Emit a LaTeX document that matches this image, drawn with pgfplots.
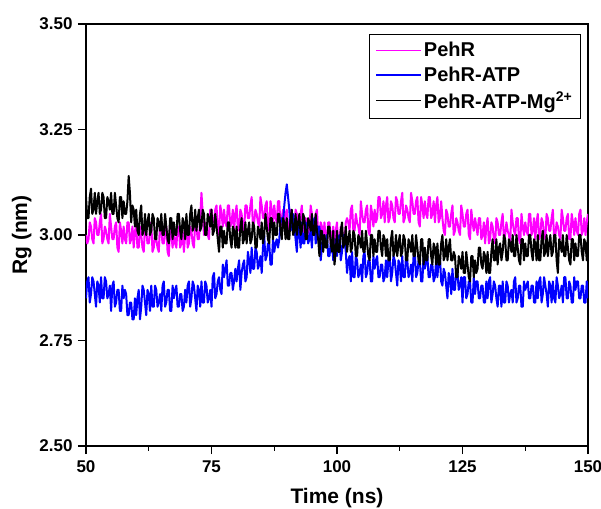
\documentclass[border=0pt]{standalone}
\usepackage{fontspec}
\setmainfont{Liberation Sans}
\usepackage{pgfplots}
\usepackage{pgfplotstable}
\pgfplotsset{compat=1.18}
\definecolor{pmag}{RGB}{255,0,255}
\definecolor{pblue}{RGB}{0,0,255}
\pgfplotsset{
  mylegline/.style={legend image code/.code={\draw[##1, line width=1.4pt] (0pt,0pt) -- (45pt,0pt);}},
}
\pgfplotstableread{
t a b c
50 3.00 2.85 3.09
50.25 2.98 2.89 3.04
50.5 2.99 2.90 3.04
50.75 3.03 2.84 3.09
51 3.02 2.86 3.11
51.25 2.99 2.90 3.05
51.5 2.98 2.89 3.06
51.75 3.04 2.86 3.10
52 3.03 2.83 3.05
52.25 3.00 2.89 3.08
52.5 3.00 2.88 3.10
52.75 3.03 2.84 3.05
53 3.05 2.90 3.06
53.25 2.98 2.85 3.10
53.5 2.99 2.85 3.09
53.75 3.02 2.90 3.04
54 3.01 2.89 3.04
54.25 2.99 2.85 3.09
54.5 2.98 2.86 3.08
54.75 3.05 2.88 3.06
55 3.02 2.82 3.10
55.25 2.99 2.88 3.05
55.5 2.99 2.89 3.05
55.75 3.02 2.83 3.10
56 3.03 2.84 3.07
56.25 2.97 2.87 3.04
56.5 2.96 2.87 3.03
56.75 3.03 2.82 3.09
57 3.01 2.82 3.09
57.25 2.98 2.88 3.04
57.5 3.02 2.85 3.08
57.75 2.99 2.87 3.05
58 2.98 2.86 3.05
58.25 3.03 2.81 3.08
58.5 3.03 2.81 3.14
58.75 2.98 2.84 3.10
59 2.99 2.84 3.03
59.25 3.02 2.80 3.07
59.5 2.97 2.80 3.06
59.75 3.01 2.85 3.02
60 3.02 2.81 3.06
60.25 2.97 2.85 3.01
60.5 2.97 2.87 3.00
60.75 3.02 2.80 3.05
61 3.00 2.83 3.07
61.25 2.97 2.88 3.00
61.5 2.96 2.87 3.01
61.75 3.02 2.84 3.05
62 3.01 2.81 3.00
62.25 2.98 2.87 3.03
62.5 2.98 2.86 3.05
62.75 3.01 2.82 3.00
63 3.03 2.88 3.01
63.25 2.96 2.83 3.05
63.5 2.97 2.83 3.04
63.75 3.00 2.88 2.99
64 2.99 2.87 2.99
64.25 2.97 2.83 3.04
64.5 2.96 2.84 3.03
64.75 3.03 2.86 3.01
65 3.01 2.82 3.05
65.25 2.98 2.88 3.00
65.5 2.98 2.89 3.00
65.75 3.01 2.83 3.05
66 3.02 2.84 3.02
66.25 2.96 2.87 2.99
66.5 2.95 2.87 2.98
66.75 3.02 2.82 3.04
67 3.00 2.82 3.04
67.25 2.97 2.88 2.99
67.5 3.01 2.85 3.03
67.75 2.98 2.87 3.00
68 2.97 2.88 3.00
68.25 3.02 2.83 3.05
68.5 3.02 2.83 3.05
68.75 2.97 2.86 3.01
69 2.98 2.86 2.99
69.25 3.01 2.82 3.04
69.5 2.96 2.83 3.03
69.75 3.00 2.87 2.99
70 3.03 2.84 3.05
70.25 2.97 2.88 3.00
70.5 2.98 2.89 3.00
70.75 3.02 2.83 3.05
71 3.01 2.85 3.07
71.25 2.98 2.89 3.01
71.5 2.97 2.88 3.02
71.75 3.03 2.85 3.06
72 3.02 2.82 3.01
72.25 2.99 2.88 3.04
72.5 2.99 2.87 3.06
72.75 3.04 2.83 3.01
73 3.10 2.89 3.02
73.25 3.05 2.84 3.06
73.5 3.00 2.84 3.05
73.75 3.03 2.89 3.00
74 3.02 2.88 3.00
74.25 3.00 2.84 3.05
74.5 2.99 2.85 3.04
74.75 3.06 2.87 3.02
75 3.06 2.83 3.06
75.25 3.03 2.90 3.00
75.5 3.03 2.91 3.01
75.75 3.06 2.85 3.05
76 3.07 2.86 3.02
76.25 3.01 2.89 2.99
76.5 3.00 2.90 2.96
76.75 3.07 2.87 3.02
77 3.05 2.86 3.02
77.25 3.02 2.93 2.97
77.5 3.06 2.90 3.01
77.75 3.03 2.92 2.98
78 3.02 2.94 2.98
78.25 3.07 2.88 3.03
78.5 3.07 2.88 3.03
78.75 3.02 2.91 2.99
79 3.03 2.91 2.97
79.25 3.06 2.87 3.02
79.5 3.01 2.89 3.01
79.75 3.05 2.92 2.97
80 3.07 2.89 3.02
80.25 3.01 2.92 2.97
80.5 3.02 2.94 2.97
80.75 3.06 2.87 3.02
81 3.05 2.91 3.04
81.25 3.02 2.93 2.98
81.5 3.01 2.94 2.99
81.75 3.07 2.89 3.03
82 3.07 2.90 2.98
82.25 3.04 2.96 3.01
82.5 3.04 2.94 3.03
82.75 3.07 2.91 2.98
83 3.09 2.97 2.99
83.25 3.02 2.92 3.03
83.5 3.03 2.92 3.02
83.75 3.06 2.97 2.97
84 3.05 2.96 2.97
84.25 3.03 2.92 3.02
84.5 3.02 2.93 3.01
84.75 3.09 2.95 2.99
85 3.07 2.91 3.03
85.25 3.04 2.97 2.98
85.5 3.04 3.00 3.00
85.75 3.07 2.94 3.05
86 3.08 2.95 3.02
86.25 3.02 2.98 2.99
86.5 3.01 2.98 2.98
86.75 3.08 2.93 3.04
87 3.06 2.93 3.04
87.25 3.03 2.99 2.99
87.5 3.07 2.96 3.03
87.75 3.04 2.98 3.00
88 3.03 2.99 3.00
88.25 3.08 2.97 3.05
88.5 3.08 2.99 3.05
88.75 3.02 3.03 3.01
89 3.04 3.04 2.99
89.25 3.06 3.03 3.04
89.5 3.02 3.07 3.03
89.75 3.05 3.10 2.99
90 3.06 3.12 3.04
90.25 3.01 3.09 2.99
90.5 3.01 3.06 2.99
90.75 3.06 3.01 3.04
91 3.04 3.02 3.06
91.25 3.02 3.05 3.00
91.5 3.00 3.02 3.01
91.75 3.06 2.99 3.05
92 3.05 2.96 3.00
92.25 3.02 3.02 3.03
92.5 3.02 3.01 3.05
92.75 3.05 2.97 3.00
93 3.07 3.03 3.01
93.25 3.00 2.98 3.05
93.5 3.01 2.98 3.04
93.75 3.04 3.03 2.99
94 3.03 3.02 2.99
94.25 3.01 2.98 3.04
94.5 3.00 2.99 3.03
94.75 3.07 3.01 3.01
95 3.05 2.97 3.05
95.25 3.02 3.03 3.00
95.5 3.02 3.04 3.00
95.75 3.05 2.98 3.05
96 3.06 2.99 3.01
96.25 3.00 3.02 2.99
96.5 2.99 3.02 2.95
96.75 3.03 2.94 3.01
97 3.02 2.97 3.01
97.25 2.98 3.00 2.96
97.5 3.03 2.98 3.00
97.75 2.99 2.99 2.97
98 2.99 3.00 2.97
98.25 3.03 2.95 3.02
98.5 3.03 2.95 3.02
98.75 2.98 2.98 2.98
99 3.00 2.98 2.96
99.25 3.02 2.94 3.01
99.5 2.98 2.95 2.93
99.75 3.01 2.99 2.96
100 3.03 2.95 3.01
100.25 2.97 2.99 2.96
100.5 2.99 3.00 2.96
100.75 3.02 2.94 3.01
101 3.02 2.96 3.03
101.25 2.98 3.00 2.97
101.5 2.98 2.99 2.98
101.75 3.03 2.96 3.02
102 3.04 2.91 2.96
102.25 3.03 2.94 2.99
102.5 3.01 2.95 3.01
102.75 3.06 2.89 2.96
103 3.07 2.96 2.97
103.25 3.01 2.90 3.01
103.5 3.01 2.90 3.00
103.75 3.05 2.95 2.95
104 3.03 2.94 2.95
104.25 3.02 2.90 3.00
104.5 3.00 2.91 2.99
104.75 3.08 2.93 2.97
105 3.05 2.89 3.01
105.25 3.03 2.95 2.96
105.5 3.03 2.96 2.96
105.75 3.06 2.90 3.01
106 3.07 2.91 2.98
106.25 3.01 2.94 2.95
106.5 3.00 2.94 2.94
106.75 3.07 2.89 3.00
107 3.05 2.89 3.00
107.25 3.02 2.95 2.95
107.5 3.06 2.92 2.99
107.75 3.03 2.94 2.96
108 3.04 2.95 2.96
108.25 3.09 2.90 3.01
108.5 3.09 2.90 3.01
108.75 3.04 2.93 2.97
109 3.05 2.93 2.95
109.25 3.08 2.89 3.00
109.5 3.03 2.90 2.99
109.75 3.07 2.94 2.95
110 3.09 2.90 2.99
110.25 3.03 2.94 2.94
110.5 3.04 2.95 2.94
110.75 3.08 2.89 2.99
111 3.07 2.91 3.01
111.25 3.04 2.95 2.95
111.5 3.03 2.94 2.96
111.75 3.09 2.91 3.00
112 3.08 2.88 2.95
112.25 3.05 2.94 2.98
112.5 3.05 2.93 3.00
112.75 3.08 2.89 2.95
113 3.10 2.95 2.96
113.25 3.03 2.90 3.00
113.5 3.04 2.90 2.99
113.75 3.07 2.95 2.94
114 3.06 2.94 2.94
114.25 3.04 2.90 2.99
114.5 3.03 2.91 2.98
114.75 3.10 2.93 2.96
115 3.08 2.89 3.00
115.25 3.05 2.95 2.95
115.5 3.05 2.96 2.95
115.75 3.08 2.90 3.00
116 3.09 2.91 2.97
116.25 3.03 2.94 2.94
116.5 3.02 2.94 2.93
116.75 3.09 2.89 2.99
117 3.07 2.89 2.99
117.25 3.04 2.95 2.93
117.5 3.08 2.92 2.97
117.75 3.05 2.94 2.94
118 3.04 2.95 2.94
118.25 3.09 2.90 2.99
118.5 3.09 2.90 2.99
118.75 3.04 2.93 2.95
119 3.05 2.93 2.93
119.25 3.08 2.89 2.98
119.5 3.03 2.90 2.97
119.75 3.07 2.94 2.93
120 3.09 2.90 2.98
120.25 3.03 2.94 2.93
120.5 3.04 2.95 2.93
120.75 3.08 2.89 2.98
121 3.04 2.88 3.00
121.25 3.01 2.92 2.94
121.5 3.00 2.91 2.95
121.75 3.06 2.88 2.99
122 3.05 2.85 2.94
122.25 3.02 2.91 2.97
122.5 3.02 2.90 2.99
122.75 3.05 2.86 2.94
123 3.07 2.92 2.94
123.25 3.00 2.87 2.96
123.5 3.01 2.87 2.95
123.75 3.04 2.92 2.90
124 3.03 2.91 2.90
124.25 3.01 2.87 2.95
124.5 3.00 2.88 2.94
124.75 3.07 2.90 2.92
125 3.05 2.84 2.96
125.25 3.02 2.90 2.91
125.5 3.02 2.90 2.91
125.75 3.05 2.85 2.96
126 3.06 2.86 2.93
126.25 3.00 2.89 2.90
126.5 2.99 2.89 2.89
126.75 3.06 2.84 2.95
127 3.03 2.84 2.95
127.25 3.01 2.90 2.90
127.5 3.04 2.86 2.94
127.75 3.02 2.89 2.91
128 3.00 2.89 2.92
128.25 3.04 2.85 2.97
128.5 3.04 2.85 2.97
128.75 2.99 2.88 2.93
129 3.00 2.88 2.92
129.25 3.03 2.84 2.96
129.5 2.98 2.84 2.95
129.75 3.02 2.89 2.91
130 3.04 2.85 2.96
130.25 2.98 2.89 2.91
130.5 2.99 2.90 2.91
130.75 3.03 2.84 2.96
131 3.02 2.86 2.99
131.25 2.99 2.89 2.94
131.5 2.98 2.88 2.94
131.75 3.04 2.85 2.99
132 3.03 2.83 2.93
132.25 3.00 2.88 2.97
132.5 3.00 2.88 2.98
132.75 3.03 2.83 2.94
133 3.05 2.89 2.96
133.25 2.99 2.84 3.00
133.5 3.00 2.84 2.99
133.75 3.03 2.89 2.94
134 3.01 2.88 2.94
134.25 3.00 2.84 2.99
134.5 2.98 2.86 2.98
134.75 3.06 2.87 2.96
135 3.03 2.84 3.00
135.25 3.01 2.89 2.95
135.5 3.00 2.90 2.95
135.75 3.04 2.84 3.00
136 3.04 2.85 2.97
136.25 2.99 2.88 2.94
136.5 2.98 2.88 2.93
136.75 3.05 2.83 2.99
137 3.02 2.83 2.99
137.25 3.00 2.89 2.94
137.5 3.03 2.87 2.98
137.75 3.01 2.88 2.95
138 3.00 2.89 2.95
138.25 3.05 2.85 3.00
138.5 3.05 2.85 3.00
138.75 3.00 2.88 2.96
139 3.01 2.88 2.94
139.25 3.04 2.84 2.99
139.5 2.99 2.84 2.98
139.75 3.03 2.89 2.94
140 3.05 2.85 3.00
140.25 2.99 2.89 2.94
140.5 3.00 2.90 2.94
140.75 3.04 2.84 2.99
141 3.03 2.86 3.01
141.25 3.00 2.90 2.95
141.5 2.99 2.88 2.96
141.75 3.05 2.86 3.00
142 3.04 2.83 2.95
142.25 3.01 2.89 2.98
142.5 3.01 2.88 3.00
142.75 3.04 2.84 2.95
143 3.06 2.89 2.96
143.25 2.99 2.85 3.00
143.5 3.00 2.84 3.00
143.75 3.03 2.90 2.94
144 3.02 2.88 2.91
144.25 3.00 2.85 2.99
144.5 2.99 2.86 2.98
144.75 3.06 2.88 2.96
145 3.04 2.84 3.00
145.25 3.01 2.90 2.95
145.5 3.01 2.90 2.95
145.75 3.04 2.85 3.00
146 3.05 2.85 2.97
146.25 2.99 2.89 2.94
146.5 2.99 2.88 2.93
146.75 3.05 2.84 2.99
147 3.03 2.84 2.99
147.25 3.00 2.90 2.94
147.5 3.04 2.87 2.98
147.75 3.01 2.89 2.95
148 3.00 2.89 2.95
148.25 3.05 2.85 3.00
148.5 3.06 2.85 3.00
148.75 3.00 2.88 2.96
149 3.01 2.88 2.94
149.25 3.04 2.84 2.99
149.5 3.00 2.84 2.98
149.75 3.03 2.89 2.94
150 3.05 2.85 3.00
}\rgdata
\begin{document}
\begin{tikzpicture}
\begin{axis}[
  name=main,
  width=502pt, height=422pt, scale only axis,
  xmin=50, xmax=150, ymin=2.5, ymax=3.5,
  xtick={50,75,100,125,150},
  minor xtick={62.5,87.5,112.5,137.5},
  ytick={2.5,2.75,3,3.25,3.5},
  tick align=outside,
  xtick pos=bottom, ytick pos=left,
  major tick length=8pt, minor tick length=4.5pt,
  axis line style={line width=1.2pt},
  every tick/.style={line width=1.2pt, black},
  /pgf/number format/assume math mode=true,
  ticklabel style={font=\fontsize{17}{19}\selectfont\bfseries},
  yticklabel style={xshift=-2pt, /pgf/number format/.cd, fixed, fixed zerofill, precision=2},
  xticklabel style={yshift=-3pt},
  xlabel={Time (ns)}, ylabel={Rg (nm)},
  label style={font=\fontsize{21}{24}\selectfont\bfseries},
  xlabel style={yshift=-9pt},
  ylabel style={yshift=1pt},
  mylegline,
  legend style={at={(0.985,0.976)}, anchor=north east,
    font=\fontsize{20}{23}\selectfont\bfseries, cells={anchor=west}, row sep=4.5pt,
    inner xsep=6pt, inner ysep=6pt},
]
\addplot[pmag, line width=2pt, line join=round] table[x=t, y=a] {\rgdata};
\addlegendentry{PehR}
\addplot[pblue, line width=2pt, line join=round] table[x=t, y=b] {\rgdata};
\addlegendentry{PehR-ATP}
\addplot[black, line width=2pt, line join=round] table[x=t, y=c] {\rgdata};
\addlegendentry{PehR-ATP-Mg\textsuperscript{2+}}
\end{axis}
\pgfresetboundingbox
\useasboundingbox ([shift={(-86pt,-62pt)}]main.south west) rectangle ([shift={(13pt,24pt)}]main.north east);
\end{tikzpicture}
\end{document}
